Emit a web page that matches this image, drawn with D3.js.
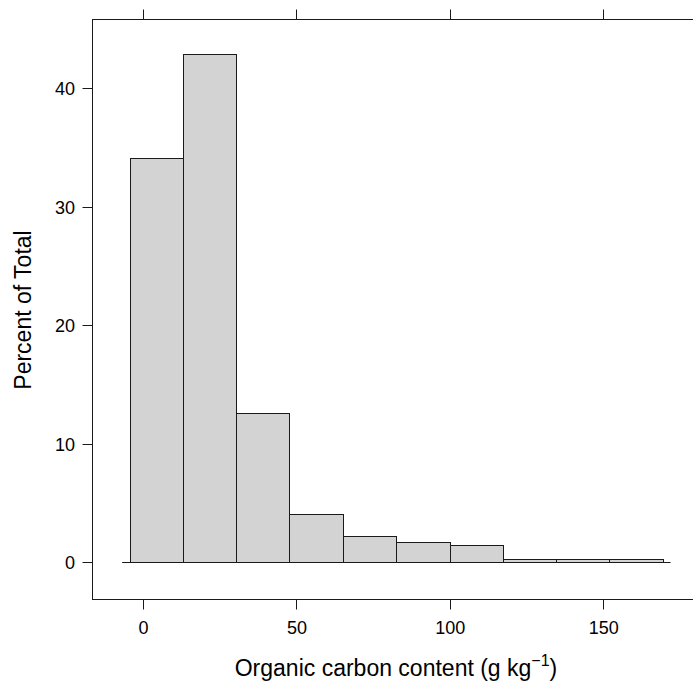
<!DOCTYPE html>
<html>
<head>
<meta charset="utf-8">
<script src="https://cdn.jsdelivr.net/npm/d3@7"></script>
<style>
  html, body { margin: 0; padding: 0; background: #fff; }
  svg { display: block; }
  text { font-family: "Liberation Sans", Arial, Helvetica, sans-serif; fill: #000; }
</style>
</head>
<body>
<svg id="chart" width="693" height="681"></svg>
<script>
// ---- data ----
const binBreaks = [-4.4, 13.0, 30.4, 47.7, 65.1, 82.5, 99.9, 117.3, 134.6, 152.0, 169.4];
const percentValues = [34.15, 42.93, 12.63, 4.13, 2.22, 1.69, 1.46, 0.26, 0.26, 0.26];
const xTicks = [0, 50, 100, 150];
const yTicks = [0, 10, 20, 30, 40];
const xDomain = [-16.6, 181.6];
const yDomain = [-3.04, 45.9];
const baselineExtent = [-7.0, 171.8];
const xTitle = "Organic carbon content (g kg";
const xTitleSup = "\u22121";
const yTitle = "Percent of Total";

// ---- drawing ----
(function () {
const svg = d3.select("#chart");
const x = d3.scaleLinear().domain(xDomain).range([92.7, 700.6]);
const y = d3.scaleLinear().domain(yDomain).range([599, 19]);

const snap = v => Math.round(v - 0.5) + 0.5;

const bins = percentValues.map((v, i) => ({ x0: binBreaks[i], x1: binBreaks[i + 1], v }));

// bars
svg.append("g").selectAll("rect").data(bins).join("rect")
  .attr("x", d => snap(x(d.x0)))
  .attr("y", d => snap(y(d.v)))
  .attr("width", d => snap(x(d.x1)) - snap(x(d.x0)))
  .attr("height", d => snap(y(0)) - snap(y(d.v)))
  .attr("fill", "#d3d3d3")
  .attr("stroke", "#1a1a1a")
  .attr("stroke-width", 1);

// baseline
svg.append("line")
  .attr("x1", x(baselineExtent[0])).attr("x2", x(baselineExtent[1]))
  .attr("y1", snap(y(0))).attr("y2", snap(y(0)))
  .attr("stroke", "#1a1a1a").attr("stroke-width", 1);

// panel border
svg.append("rect")
  .attr("x", snap(x(xDomain[0])))
  .attr("y", snap(y(yDomain[1])))
  .attr("width", x(xDomain[1]) - x(xDomain[0]))
  .attr("height", snap(y(yDomain[0])) - snap(y(yDomain[1])))
  .attr("fill", "none")
  .attr("stroke", "#1a1a1a").attr("stroke-width", 1);

const tickLen = 10;
const panelTop = snap(y(yDomain[1]));
const panelBottom = snap(y(yDomain[0]));
const panelLeft = snap(x(xDomain[0]));

// x ticks (bottom + top)
const gx = svg.append("g");
xTicks.forEach(t => {
  const px = snap(x(t));
  gx.append("line").attr("x1", px).attr("x2", px).attr("y1", panelBottom).attr("y2", panelBottom + tickLen)
    .attr("stroke", "#1a1a1a");
  gx.append("line").attr("x1", px).attr("x2", px).attr("y1", panelTop).attr("y2", panelTop - tickLen)
    .attr("stroke", "#1a1a1a");
  gx.append("text").attr("x", x(t)).attr("y", 634)
    .attr("text-anchor", "middle").attr("font-size", 18).text(t);
});

// y ticks (left)
const gy = svg.append("g");
yTicks.forEach(t => {
  const py = snap(y(t));
  gy.append("line").attr("x1", panelLeft).attr("x2", panelLeft - tickLen).attr("y1", py).attr("y2", py)
    .attr("stroke", "#1a1a1a");
  gy.append("text").attr("x", 75).attr("y", y(t)).attr("dy", "0.35em")
    .attr("text-anchor", "end").attr("font-size", 18).text(t);
});

// axis titles
const xt = svg.append("text").attr("x", 396).attr("y", 676)
  .attr("text-anchor", "middle").attr("font-size", 23);
xt.append("tspan").text(xTitle);
xt.append("tspan").attr("font-size", 16).attr("dy", -10).text(xTitleSup);
xt.append("tspan").attr("dy", 10).text(")");

svg.append("text")
  .attr("transform", "translate(31,310) rotate(-90)")
  .attr("text-anchor", "middle").attr("font-size", 23).text(yTitle);
})();
</script>
</body>
</html>
